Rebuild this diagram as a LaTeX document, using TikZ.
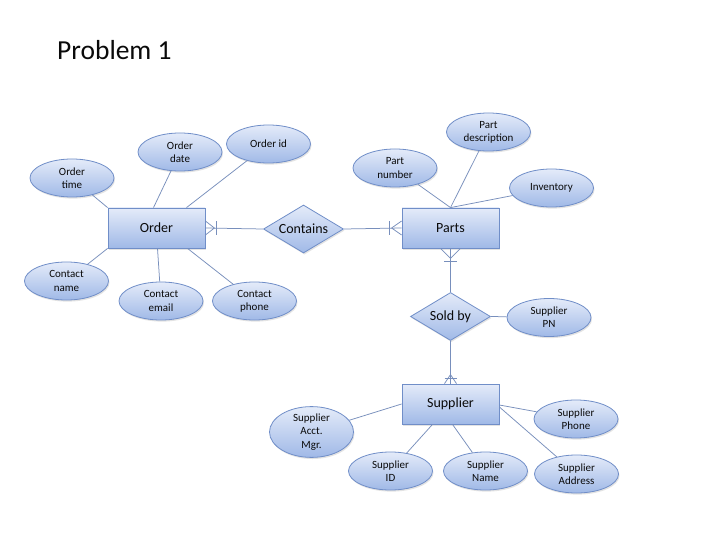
\documentclass[tikz,border=0pt]{standalone}
\usepackage{fontspec}
\setmainfont{Carlito}
\usetikzlibrary{shapes.geometric,shadows}
\definecolor{lnc}{RGB}{120,143,188}
\definecolor{bdc}{RGB}{112,142,200}
\definecolor{topc}{RGB}{228,235,249}
\definecolor{botc}{RGB}{160,185,231}
\definecolor{txc}{RGB}{10,10,10}
\tikzset{
  shp/.style={draw=bdc, line width=0.8pt, top color=topc, bottom color=botc, text=txc,
    drop shadow={opacity=0.22, shadow xshift=1pt, shadow yshift=-1.6pt}},
  attr/.style={shp, ellipse, minimum width=84pt, minimum height=38pt, inner sep=0pt,
    align=center, font=\fontsize{11}{13.2}\selectfont},
  ent/.style={shp, rectangle, minimum width=97pt, minimum height=40pt, inner sep=0pt,
    font=\fontsize{14}{16}\selectfont},
  rel/.style={shp, diamond, shape aspect=1.667, minimum width=80pt, minimum height=48pt,
    inner sep=0pt, font=\fontsize{14}{16}\selectfont},
  conn/.style={draw=lnc, line width=0.75pt}
}
\begin{document}
\begin{tikzpicture}[x=1pt,y=-1pt]
\useasboundingbox[fill=white] (0,0) rectangle (720,540);
\node[anchor=base west, font=\fontsize{27.5}{32}\selectfont, text=txc, inner sep=0pt] (title) at (57,60) {Problem 1};

% entities and relationships
\node[ent] (order) at (156.5,228) {Order};
\node[rel] (contains) at (303.5,229) {Contains};
\node[ent] (parts) at (450.5,228) {Parts};
\node[rel] (soldby) at (450.5,316.5) {Sold by};
\node[ent] (supplier) at (450.5,404) {Supplier};

% attributes
\node[attr] (otime) at (72,178) {Order\\time};
\node[attr] (odate) at (180,152) {Order\\date};
\node[attr] (oid) at (268.5,144) {Order id};
\node[attr] (cname) at (66.5,281) {Contact\\name};
\node[attr] (cemail) at (161,301) {Contact\\email};
\node[attr] (cphone) at (254.5,301) {Contact\\phone};
\node[attr] (pnum) at (395,168) {Part\\number};
\node[attr] (pdesc) at (488.5,132) {Part\\description};
\node[attr] (inv) at (551.5,188) {Inventory};
\node[attr] (spn) at (549,317.5) {Supplier\\PN};
\node[attr] (sacct) at (311.5,432) {Supplier\\Acct.\\Mgr.};
\node[attr] (sid) at (390.5,471) {Supplier\\ID};
\node[attr] (sname) at (485.5,471) {Supplier\\Name};
\node[attr] (sphone) at (576,419) {Supplier\\Phone};
\node[attr] (saddr) at (576.5,474) {Supplier\\Address};

% attribute connectors
\draw[conn] (otime) -- (order.north west);
\draw[conn] ([xshift=-3pt]order.north) -- (odate);
\draw[conn] ([xshift=30pt]order.north) -- (oid);
\draw[conn] (order.south west) -- (cname);
\draw[conn] ([xshift=1pt]order.south) -- (cemail);
\draw[conn] ([xshift=31pt]order.south) -- (cphone);
\draw[conn] (parts.north) -- (pnum);
\draw[conn] (parts.north) -- (pdesc);
\draw[conn] (parts.north) -- (inv);
\draw[conn] (soldby.east) -- (spn);
\draw[conn] (supplier.west) -- (sacct);
\draw[conn] ([xshift=-18pt]supplier.south) -- (sid);
\draw[conn] ([xshift=2pt]supplier.south) -- (sname);
\draw[conn] ([yshift=-1pt]supplier.east) -- (sphone);
\draw[conn] ([yshift=-3pt]supplier.east) -- (saddr);

% relationship connectors
\draw[conn] (order.east) -- (contains.west);
\draw[conn] ([yshift=7pt]order.east) -- ([xshift=9pt]order.east) -- ([yshift=-7pt]order.east);
\draw[conn] ([xshift=11pt,yshift=6.5pt]order.east) -- ([xshift=11pt,yshift=-6.5pt]order.east);

\draw[conn] (contains.east) -- (parts.west);
\draw[conn] ([yshift=7pt]parts.west) -- ([xshift=-10pt]parts.west) -- ([yshift=-7pt]parts.west);
\draw[conn] ([xshift=-12pt,yshift=6.5pt]parts.west) -- ([xshift=-12pt,yshift=-6.5pt]parts.west);

\draw[conn] (parts.south) -- (soldby.north);
\draw[conn] ([xshift=-10pt]parts.south) -- ([yshift=-10pt]parts.south) -- ([xshift=10pt]parts.south);
\draw[conn] ([xshift=-6.5pt,yshift=-13pt]parts.south) -- ([xshift=6.5pt,yshift=-13pt]parts.south);

\draw[conn] (soldby.south) -- (supplier.north);
\draw[conn] ([xshift=-6pt]supplier.north) -- ([yshift=9pt]supplier.north) -- ([xshift=6pt]supplier.north);
\draw[conn] ([xshift=-6pt,yshift=5pt]supplier.north) -- ([xshift=6pt,yshift=5pt]supplier.north);
\end{tikzpicture}
\end{document}
